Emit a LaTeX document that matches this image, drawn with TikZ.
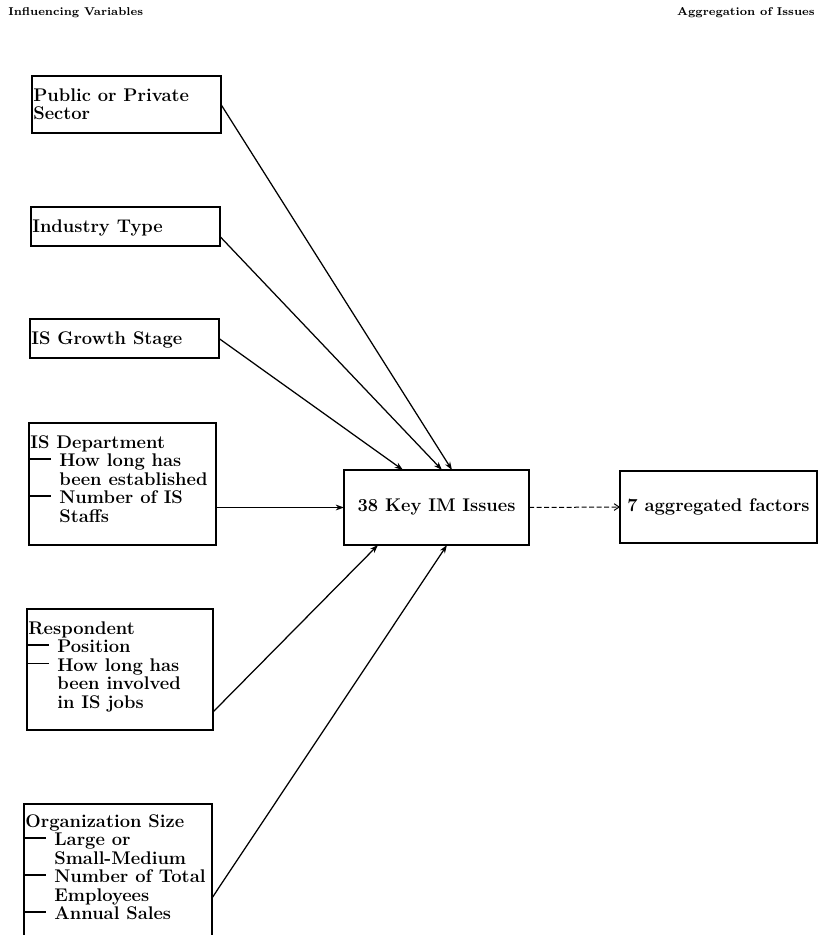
\documentclass[tikz,border=0pt]{standalone}
\usepackage{tikz}
\usetikzlibrary{arrows.meta}
\usepackage{amsmath}

\newcommand{\subdash}{\rule[0.85ex]{12.6pt}{0.9pt}\hspace{4.8pt}}
\newcommand{\subgap}{\hspace*{17.4pt}}

\begin{document}
\begin{tikzpicture}[
                x=0.6pt, y=-0.6pt,
                every node/.style={font=\bfseries\fontsize{11}{11.1}\selectfont},
                head/.style={font=\bfseries\fontsize{6.8}{8}\selectfont, inner sep=0pt},
                varbox/.style={draw, line width=0.9pt, anchor=north west, inner sep=0pt, outer sep=0pt},
                vartext/.style={anchor=north west, inner sep=0pt, align=left},
                influence/.style={-{Stealth[length=5pt,width=3.5pt]}, line width=0.75pt},
                aggregate/.style={-{Straight Barb[length=3pt,width=4pt]}, line width=0.6pt, dash pattern=on 3pt off 1.5pt}
            ]
                \clip (0,0) rectangle (823,935);
                % headings
                \node[head, anchor=west] (lefthead) at (8,13) {Influencing Variables};
                \node[head, anchor=east] (righthead) at (815,13) {Aggregation of Issues};

                % influencing variables
                \node[varbox, minimum width=113.4pt, minimum height=34.2pt] (pub) at (32,76) {};
                \node[vartext] (pubtext) at ([xshift=0.6pt,yshift=-7.2pt]pub.north west) {Public or Private\\Sector};

                \node[varbox, minimum width=113.4pt, minimum height=23.4pt] (ind) at (31,207) {};
                \node[vartext] (indtext) at ([xshift=0.6pt,yshift=-7.2pt]ind.north west) {Industry Type};

                \node[varbox, minimum width=113.4pt, minimum height=23.4pt] (grow) at (30,319) {};
                \node[vartext] (growtext) at ([xshift=0.6pt,yshift=-7.2pt]grow.north west) {IS Growth Stage};

                \node[varbox, minimum width=112.2pt, minimum height=73.2pt] (dept) at (29,423) {};
                \node[vartext] (depttext) at ([xshift=0.6pt,yshift=-7.2pt]dept.north west) {IS Department\\
                    \subdash How long has\\
                    \subgap been established\\
                    \subdash Number of IS\\
                    \subgap Staffs};

                \node[varbox, minimum width=111.6pt, minimum height=72.6pt] (resp) at (27,609) {};
                \node[vartext] (resptext) at ([xshift=0.6pt,yshift=-7.2pt]resp.north west) {Respondent\\
                    \subdash Position\\
                    \subdash How long has\\
                    \subgap been involved\\
                    \subgap in IS jobs};

                \node[varbox, minimum width=112.8pt, minimum height=90pt] (org) at (24,804) {};
                \node[vartext] (orgtext) at ([xshift=0.6pt,yshift=-6pt]org.north west) {Organization Size\\
                    \subdash Large or\\
                    \subgap Small-Medium\\
                    \subdash Number of Total\\
                    \subgap Employees\\
                    \subdash Annual Sales};

                % issues
                \node[varbox, minimum width=111pt, minimum height=45pt] (key) at (344,470) {38 Key IM Issues};
                \node[varbox, minimum width=118.2pt, minimum height=43.2pt] (agg) at (620,471) {7 aggregated factors};

                % connectors
                \draw[influence] (pub.east) -- ([xshift=64.8pt]key.north west);
                \draw[influence] ([yshift=-6pt]ind.east) -- ([xshift=58.8pt]key.north west);
                \draw[influence] (grow.east) -- ([xshift=35.4pt]key.north west);
                \draw[influence] (dept.east |- key.west) -- (key.west);
                \draw[influence] ([yshift=10.8pt]resp.south east) -- ([xshift=20.4pt]key.south west);
                \draw[influence] ([yshift=-56.4pt]org.north east) -- ([xshift=61.8pt]key.south west);
                \draw[aggregate] (key.east) -- (agg.west);
            \end{tikzpicture}
\end{document}
